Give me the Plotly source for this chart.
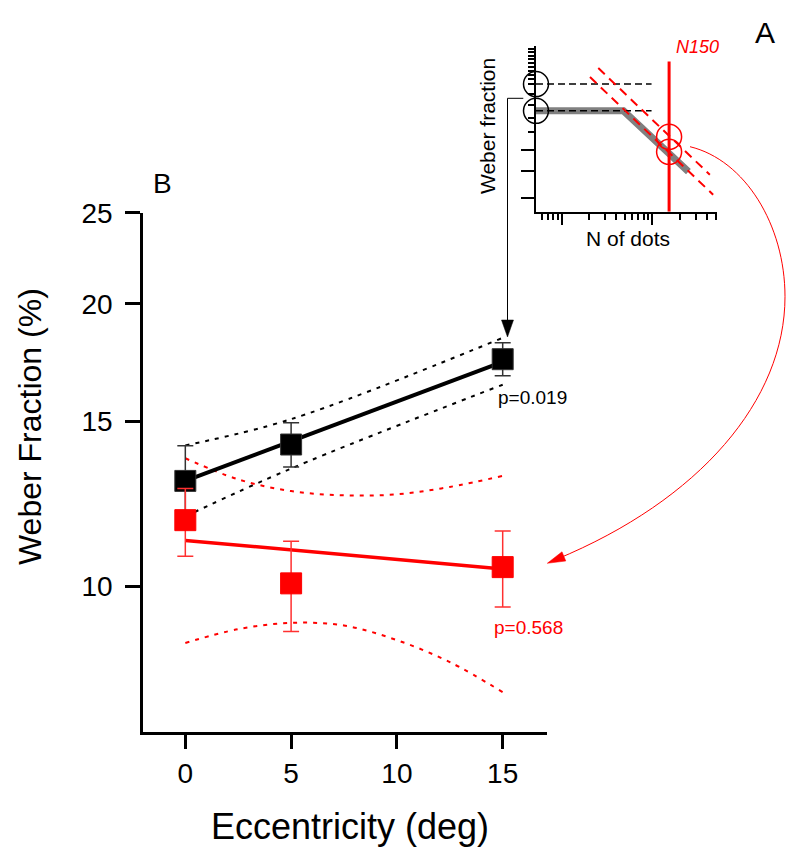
import plotly.graph_objects as go

W, H = 800, 856
OFF = 8  # page body margin in the browser
FONT = "Liberation Sans, Arial, sans-serif"

# ---------------- Panel B data ----------------
ecc = [0, 5, 15]
black_wf = [12.95, 14.16, 17.46]
black_err_plus = [1.17, 0.78, 0.72]
black_err_minus = [1.00, 0.76, 0.70]
red_wf = [11.76, 10.07, 10.48]
red_err_plus = [0.95, 1.10, 0.97]
red_err_minus = [1.00, 1.12, 0.98]

fit_x = [0, 15]
black_fit = [12.95, 17.35]
red_fit = [11.19, 10.43]

black_ci_x = [0, 5, 15]
black_ci_upper = [14.13, 15.07, 18.40]
black_ci_lower = [11.87, 13.35, 16.40]

red_ci_x = [0, 2.5, 5, 7.5, 10, 12.5, 15]
red_ci_upper = [13.69, 13.00, 12.63, 12.50, 12.53, 12.76, 13.11]
red_ci_lower = [8.70, 9.00, 9.14, 9.08, 8.76, 8.30, 7.71]

x_ticks = [0, 5, 10, 15]
y_ticks = [10, 15, 20, 25]
p_black = "p=0.019"
p_red = "p=0.568"

# ---------------- Panel A (inset) data ----------------
inset_model_n = [5.2, 48, 250]
inset_model_wf = [7.54, 7.54, 3.97]
inset_ref_wf = [10.0, 7.54]
inset_ref_n = [5.2, 98]
inset_n150 = 153
inset_n150_wf = [2.6, 12.7]
inset_red_circles_wf = [5.73, 4.89]
inset_ci1_n = [25.3, 431]
inset_ci1_wf = [11.84, 3.84]
inset_ci2_n = [20.5, 469]
inset_ci2_wf = [10.77, 3.11]
inset_x_major = [10, 100]
inset_x_minor = [6, 7, 8, 9, 20, 30, 40, 50, 60, 70, 80, 90, 200, 300, 400, 500]
inset_y_major = [3, 4, 5, 15]
inset_y_minor = [6, 7, 8, 9, 10, 10.5, 11, 11.5, 12, 12.5, 13, 13.5, 14, 14.5]


def P(x, y):
    return (x - OFF) / W, 1 - (y - OFF) / H


def dom_x(a, b):
    return [P(a, 0)[0], P(b, 0)[0]]


def dom_y(bottom, top):
    return [P(0, bottom)[1], P(0, top)[1]]


fig = go.Figure()

for yy in (black_ci_upper, black_ci_lower):
    fig.add_trace(go.Scatter(x=black_ci_x, y=yy, mode="lines",
                             line=dict(color="black", width=2, dash="4px,6px", shape="spline"),
                             showlegend=False, hoverinfo="skip"))
for yy in (red_ci_upper, red_ci_lower):
    fig.add_trace(go.Scatter(x=red_ci_x, y=yy, mode="lines",
                             line=dict(color="red", width=2, dash="4px,6px", shape="spline"),
                             showlegend=False, hoverinfo="skip"))
fig.add_trace(go.Scatter(x=fit_x, y=black_fit, mode="lines",
                         line=dict(color="black", width=4), showlegend=False))
fig.add_trace(go.Scatter(x=fit_x, y=red_fit, mode="lines",
                         line=dict(color="red", width=3.5), showlegend=False))
fig.add_trace(go.Scatter(x=ecc, y=black_wf, mode="markers",
                         marker=dict(symbol="square", size=21, color="black",
                                     line=dict(color="#333", width=1)),
                         error_y=dict(type="data", array=black_err_plus, arrayminus=black_err_minus,
                                      color="#333", thickness=1.5, width=8),
                         showlegend=False, cliponaxis=False))
fig.add_trace(go.Scatter(x=ecc, y=red_wf, mode="markers",
                         marker=dict(symbol="square", size=21, color="red",
                                     line=dict(color="red", width=1)),
                         error_y=dict(type="data", array=red_err_plus, arrayminus=red_err_minus,
                                      color="#ff3030", thickness=1.5, width=8),
                         showlegend=False, cliponaxis=False))

ins = dict(xaxis="x2", yaxis="y2", showlegend=False, hoverinfo="skip")
fig.add_trace(go.Scatter(x=inset_model_n, y=inset_model_wf, mode="lines",
                         line=dict(color="#808080", width=7), **ins))
for lv in inset_ref_wf:
    fig.add_trace(go.Scatter(x=inset_ref_n, y=[lv, lv], mode="lines",
                             line=dict(color="black", width=1.5, dash="7px,4px"), **ins))
fig.add_trace(go.Scatter(x=[inset_ref_n[0]] * 2, y=inset_ref_wf, mode="markers",
                         marker=dict(symbol="circle-open", size=25, color="black",
                                     line=dict(width=1.5)), cliponaxis=False, **ins))
fig.add_trace(go.Scatter(x=inset_ci1_n, y=inset_ci1_wf, mode="lines",
                         line=dict(color="red", width=2, dash="9px,6px"), **ins))
fig.add_trace(go.Scatter(x=inset_ci2_n, y=inset_ci2_wf, mode="lines",
                         line=dict(color="red", width=2, dash="9px,6px"), **ins))
fig.add_trace(go.Scatter(x=[inset_n150] * 2, y=inset_n150_wf, mode="lines",
                         line=dict(color="red", width=3), **ins))
fig.add_trace(go.Scatter(x=[inset_n150] * 2, y=inset_red_circles_wf, mode="markers",
                         marker=dict(symbol="circle-open", size=25, color="red",
                                     line=dict(width=1.5)), cliponaxis=False, **ins))

ax_common = dict(showgrid=False, zeroline=False, linecolor="black", ticks="outside",
                 tickcolor="black", showline=True, automargin=False)

fig.update_layout(
    width=W, height=H,
    margin=dict(l=0, r=0, t=0, b=0, pad=0, autoexpand=False),
    paper_bgcolor="white", plot_bgcolor="rgba(0,0,0,0)",
    font=dict(family=FONT, color="black"),
    xaxis=dict(domain=dom_x(143, 546.7), range=[-2.0, 17.08], tickvals=x_ticks,
               linewidth=2.5, tickwidth=2.5, ticklen=15, tickfont=dict(size=28),
               anchor="y", **ax_common),
    yaxis=dict(domain=dom_y(731.5, 213), type="log", range=[0.8451, 1.3979],
               tickvals=y_ticks, ticktext=[str(v) for v in y_ticks],
               linewidth=2.5, tickwidth=2.5, ticklen=15, tickfont=dict(size=28),
               ticklabelstandoff=7, anchor="x", **ax_common),
    xaxis2=dict(domain=dom_x(536, 716.7), type="log", range=[0.716, 2.71],
                tickvals=inset_x_major, showticklabels=False, linewidth=2, tickwidth=2,
                ticklen=11, anchor="y2",
                minor=dict(tickvals=inset_x_minor, ticklen=6, tickwidth=2, ticks="outside",
                           tickcolor="black"),
                **ax_common),
    yaxis2=dict(domain=dom_y(211.7, 45.7), type="log", range=[0.415, 1.176],
                tickvals=inset_y_major, showticklabels=False, linewidth=2, tickwidth=2,
                ticklen=13, anchor="x2",
                minor=dict(tickvals=inset_y_minor, ticklen=6, tickwidth=2, ticks="outside",
                           tickcolor="black"),
                **ax_common),
)

ann = []


def text(x, y, s, size, color="black", angle=0, xanchor="center", italic=False):
    px_, py_ = P(x, y)
    ann.append(dict(x=px_, y=py_, xref="paper", yref="paper", text=s, showarrow=False,
                    textangle=angle, xanchor=xanchor, yanchor="middle",
                    font=dict(size=size, color=color, family=FONT,
                              style="italic" if italic else "normal")))


text(30, 427, "Weber Fraction (%)", 32, angle=-90)
text(350, 826, "Eccentricity (deg)", 36)
text(496, 397, p_black, 19, xanchor="left")
text(492, 627, p_red, 19, color="red", xanchor="left")
text(162, 183, "B", 28)
text(765, 32, "A", 30)
text(488, 126, "Weber fraction", 21, angle=-90)
text(628, 238, "N of dots", 21)
text(697, 47, "N150", 18, color="red", italic=True)
fig.update_layout(annotations=ann)


def path_str(cmds):
    out = []
    for c in cmds:
        if isinstance(c, str):
            out.append(c)
        else:
            x, y = P(*c)
            out.append(f"{x:.5f},{y:.5f}")
    return " ".join(out)


shapes = []
shapes.append(dict(type="path", xref="paper", yref="paper",
                   path=path_str(["M", (523.3, 98.3), "L", (507.5, 98.3), "L", (507.5, 322)]),
                   line=dict(color="black", width=1)))
shapes.append(dict(type="path", xref="paper", yref="paper",
                   path=path_str(["M", (501.5, 320), "L", (513.5, 320), "L", (507.5, 337), "Z"]),
                   line=dict(color="black", width=0.5), fillcolor="black"))
shapes.append(dict(type="path", xref="paper", yref="paper",
                   path=path_str(["M", (690, 146.7), "C", (745, 160), (785, 225), (785, 296.7),
                                  "C", (785, 400), (700, 500), (556, 559.5)]),
                   line=dict(color="red", width=1)))
shapes.append(dict(type="path", xref="paper", yref="paper",
                   path=path_str(["M", (547.3, 563.3), "L", (565.8, 561.0), "L", (562.0, 551.8), "Z"]),
                   line=dict(color="red", width=0.5), fillcolor="red"))
fig.update_layout(shapes=shapes)

fig.write_html("out.html")
